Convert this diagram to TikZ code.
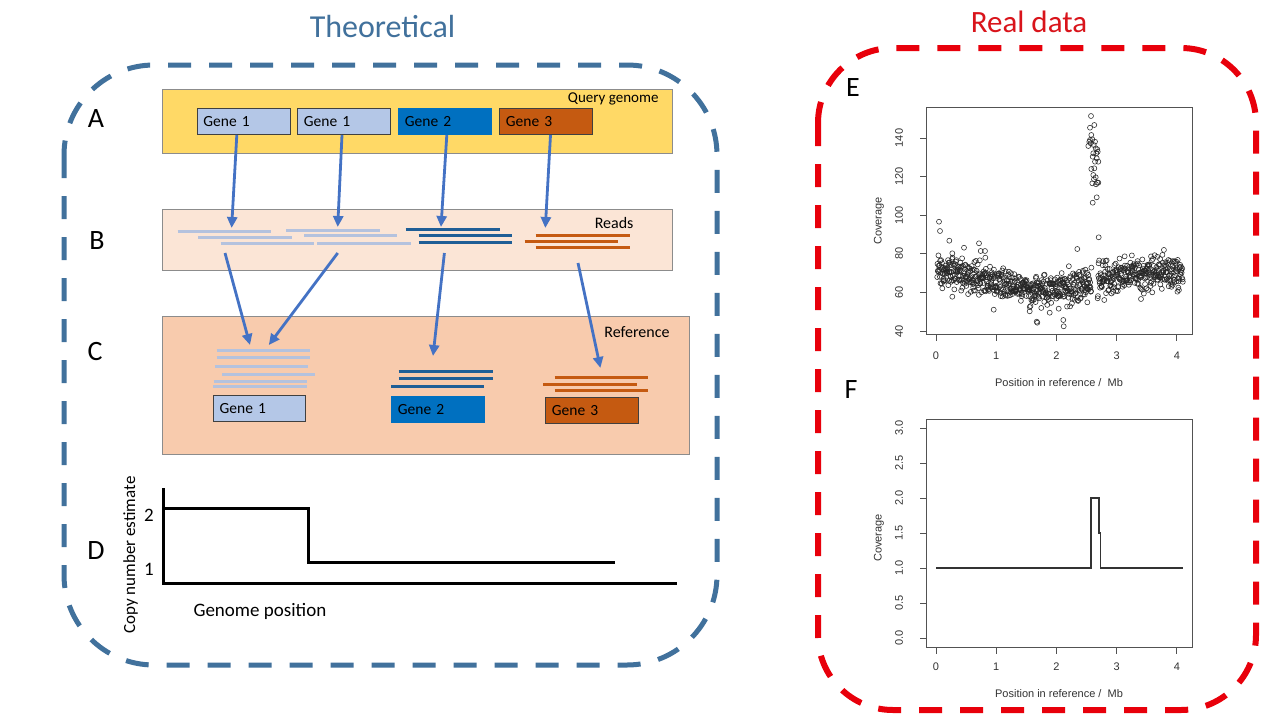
\documentclass[tikz,border=0pt]{standalone}
\usepackage{fontspec}
\setmainfont{Carlito}
\newfontfamily\rfont{Liberation Sans}
\usetikzlibrary{arrows.meta}
\definecolor{theo}{HTML}{41719C}
\definecolor{realred}{HTML}{E8000B}
\definecolor{realtxt}{HTML}{D9141B}
\definecolor{qyellow}{HTML}{FFD966}
\definecolor{readsbg}{HTML}{FBE5D6}
\definecolor{refbg}{HTML}{F8CBAD}
\definecolor{lblue}{HTML}{B4C7E7}
\definecolor{lread}{HTML}{B4C2DE}
\definecolor{gblue}{HTML}{0070C0}
\definecolor{dread}{HTML}{1F5E96}
\definecolor{gorange}{HTML}{C55A11}
\definecolor{arrowblue}{HTML}{4472C4}
\definecolor{panelline}{HTML}{8C8C8C}
\definecolor{rgray}{HTML}{333333}
\begin{document}
\begin{tikzpicture}[x=1pt,y=-1pt,
  panel/.style={draw=panelline,line width=1pt,anchor=north west,inner sep=0pt,outer sep=0pt},
  gene/.style={draw=black!75,line width=0.9pt,anchor=north west,minimum width=93pt,minimum height=26pt,
    text width=80pt,align=left,inner xsep=6.5pt,inner ysep=0pt,font=\fontsize{15.5}{17}\selectfont},
  arr/.style={draw=arrowblue,line width=2.8pt,-{Triangle[length=11pt,width=10pt]}},
  lr/.style={draw=lread,line width=3pt},
  dr/.style={draw=dread,line width=3pt},
  orr/.style={draw=gorange,line width=3pt},
  letter/.style={font=\fontsize{28}{32}\selectfont},
  rlab/.style={font=\rfont\fontsize{11}{13}\selectfont,text=rgray,inner sep=0pt},
  rframe/.style={draw=rgray!85,line width=0.8pt},
  pt/.style={draw=black!85,line width=0.55pt}]
\useasboundingbox[fill=white] (0,0) rectangle (1280,720);

% titles
\node[anchor=base,font=\fontsize{32}{36}\selectfont,text=theo] (t1) at (382.5,37) {Theoretical};
\node[anchor=base,font=\fontsize{31}{36}\selectfont,text=realtxt] (t2) at (1029,32) {Real data};

% dashed frames
\draw[theo,line width=5pt,dash pattern=on 23pt off 18pt,rounded corners=90pt] (64,65) rectangle (717,665);
\draw[realred,line width=6pt,dash pattern=on 23pt off 18pt,rounded corners=75pt] (818,48) rectangle (1256,710);

% letters
\node[letter] (lA) at (96,119) {A};
\node[letter] (lB) at (97,241) {B};
\node[letter] (lC) at (95,352) {C};
\node[letter] (lD) at (96,551) {D};
\node[letter] (lE) at (853,88) {E};
\node[letter] (lF) at (851,390) {F};

% panel A
\node[panel,fill=qyellow,minimum width=510pt,minimum height=64pt] (qbox) at (162,89) {};
\node[anchor=base east,font=\fontsize{15}{17}\selectfont] (qlab) at (662,102) {Query genome};
\node[gene,fill=lblue] (g1a) at (196.5,108) {Gene 1};
\node[gene,fill=lblue] (g1b) at (297,108) {Gene 1};
\node[gene,fill=gblue,draw=gblue] (g2) at (398,108) {Gene 2};
\node[gene,fill=gorange] (g3) at (499,108) {Gene 3};

% panel B
\node[panel,fill=readsbg,minimum width=510pt,minimum height=61pt] (rbox) at (162,209) {};
\node[anchor=base east,font=\fontsize{16}{18}\selectfont] (rlab) at (637,228) {Reads};
\draw[lr] (177.5,231) -- (271,231);
\draw[lr] (198,237) -- (292,237);
\draw[lr] (220.6,243) -- (313.6,243);
\draw[lr] (286,230) -- (379.7,230);
\draw[lr] (304,235) -- (397,235);
\draw[lr] (317,243) -- (410.7,243);
\draw[dr] (405.5,229) -- (499.5,229);
\draw[dr] (418.6,235.5) -- (512,235.5);
\draw[dr] (418.6,242) -- (512,242);
\draw[orr] (535.7,235) -- (629.7,235);
\draw[orr] (524.7,241.5) -- (618.3,241.5);
\draw[orr] (535.7,247.5) -- (629.7,247.5);

% panel C
\node[panel,fill=refbg,minimum width=527pt,minimum height=138pt] (fbox) at (162,316) {};
\node[anchor=base east,font=\fontsize{16}{18}\selectfont] (flab) at (673,337) {Reference};
\draw[lr] (216.5,350) -- (310,350);
\draw[lr] (216.5,357) -- (310,357);
\draw[lr] (214.7,366) -- (308.4,366);
\draw[lr] (222,374) -- (315,374);
\draw[lr] (213.7,381) -- (307,381);
\draw[lr] (213,386.5) -- (306.7,386.5);
\draw[dr] (398.6,371) -- (492.6,371);
\draw[dr] (398.6,378.5) -- (492.6,378.5);
\draw[dr] (391,386) -- (484,386);
\draw[orr] (554.6,377.5) -- (648.3,377.5);
\draw[orr] (543,384) -- (636.6,384);
\draw[orr] (554.6,390.5) -- (648.3,390.5);
\node[gene,fill=lblue,minimum width=92.3pt,text width=79.3pt] (rg1) at (212.7,395) {Gene 1};
\node[gene,fill=gblue,draw=gblue] (rg2) at (391,395.7) {Gene 2};
\node[gene,fill=gorange,minimum width=93.3pt,text width=80.3pt] (rg3) at (545,396.7) {Gene 3};

% arrows A -> B
\coordinate (a1s) at (236.8,135);
\coordinate (a1e) at (231.6,228);
\coordinate (a2s) at (342,135);
\coordinate (a2e) at (337.7,227);
\coordinate (a3s) at (446.8,135);
\coordinate (a3e) at (441,227);
\coordinate (a4s) at (550.5,135);
\coordinate (a4e) at (545.3,228);
\draw[arr] (a1s) -- (a1e);
\draw[arr] (a2s) -- (a2e);
\draw[arr] (a3s) -- (a3e);
\draw[arr] (a4s) -- (a4e);
% arrows B -> C
\coordinate (b1s) at (225,253);
\coordinate (b1e) at (250,345);
\coordinate (b2s) at (337.7,253);
\coordinate (b2e) at (268.8,345);
\coordinate (b3s) at (444.4,253);
\coordinate (b3e) at (433,356);
\coordinate (b4s) at (578,263);
\coordinate (b4e) at (600.4,368);
\draw[arr] (b1s) -- (b1e);
\draw[arr] (b2s) -- (b2e);
\draw[arr] (b3s) -- (b3e);
\draw[arr] (b4s) -- (b4e);

% panel D
\draw[line width=3pt,line cap=rect] (163,489) -- (163,583) -- (675,583);
\draw[line width=3pt] (163,508) -- (308.5,508) -- (308.5,562.7) -- (614.6,562.7);
\node[font=\fontsize{19}{21}\selectfont] (d2) at (149,515) {2};
\node[font=\fontsize{19}{21}\selectfont] (d1) at (149,569) {1};
\node[rotate=90,font=\fontsize{17}{19}\selectfont] (dyl) at (130.6,555) {Copy number estimate};
\node[anchor=base west,font=\fontsize{19}{21}\selectfont] (dxl) at (190,616) {Genome position};

% plot E
\draw[rframe] (926,107) rectangle (1192,334);
\foreach \v in {40,60,...,140}{
  \draw[rframe] (926,{331-(\v-40)*1.93}) -- (920,{331-(\v-40)*1.93});
  \node[rlab,rotate=90] at (899,{331-(\v-40)*1.93}) {\v};
}
\foreach \m in {0,1,2,3,4}{
  \draw[rframe] ({936+60.2*\m},334) -- ({936+60.2*\m},341);
  \node[rlab] at ({936+60.2*\m},356) {\m};
}
\node[rlab] (exl) at (1059,383) {Position in reference /\ \ Mb};
\node[rlab,rotate=90] (eyl) at (879,221) {Coverage};
\pgfmathsetseed{12}
\foreach \i in {0,...,819}{
  \pgfmathsetmacro\mx{0.02+\i*4.08/819}
  \pgfmathtruncatemacro\gapq{and(\mx>2.585,\mx<2.685)}
  \ifnum\gapq=0
    \pgfmathsetmacro\my{66+4.5*cos(100*\mx)+4.2*(rand+rand+rand)}
    \draw[pt] ({936+60.2*\mx},{331-(\my-40)*1.93}) circle[radius=2.5pt];
  \fi
}
\foreach \px/\py in {1091/116,1090/127.7,1094.3/125,1091.3/135,1092.3/139.3,1095/141.7,1089.3/141.7,
  1090.7/143.3,1095.7/148.3,1097.3/149.3,1093.3/153.3,1097.7/151.7,1092.7/156.7,1096.7/158.3,
  1095/161.7,1091.3/169,1093.3/175,1095.7/177.3,1094/179.3,1097.3/182.7,1092.3/183.3,1096/184.3,
  1098.3/182.7,1096.7/197.3,1092.7/202.7,1098.7/237.3,1090/140,1093.7/145,1096.3/153.3,
  1098.3/161.7,1088.3/146,1094.3/168.3,
  939/221.7,940/231,949.3/240.7,952.3/253.3,964/247.7,979/243.3,980.7/251,985/251,985.3/257.7,
  1077.3/249,993.7/309.7,1029.7/307,1029.7/311.3,1036.7/321.7,1037.3/322.7,1063.3/320,
  1063.7/326.3,1049.7/312.7,1058.7/308.7,952.3/296.7,1141/299,1087.3/302.3}{
  \draw[pt] (\px,\py) circle[radius=2.5pt];
}

% plot F
\draw[rframe] (926,419) rectangle (1192,647);
\foreach \v/\t in {0/0.0,0.5/0.5,1/1.0,1.5/1.5,2/2.0,2.5/2.5,3/3.0}{
  \draw[rframe] (926,{638-70*\v}) -- (920,{638-70*\v});
  \node[rlab,rotate=90] at (899,{638-70*\v}) {\t};
}
\foreach \m in {0,1,2,3,4}{
  \draw[rframe] ({936+60.2*\m},647) -- ({936+60.2*\m},654);
  \node[rlab] at ({936+60.2*\m},667) {\m};
}
\node[rlab] (fxl) at (1059,694) {Position in reference /\ \ Mb};
\node[rlab,rotate=90] (fyl) at (879,538) {Coverage};
\draw[rgray,line width=1.2pt] (936,568) -- (1091,568) -- (1091,498) -- (1099,498) -- (1099,533)
  -- (1100.5,533) -- (1100.5,568) -- (1183,568);
\end{tikzpicture}
\end{document}
